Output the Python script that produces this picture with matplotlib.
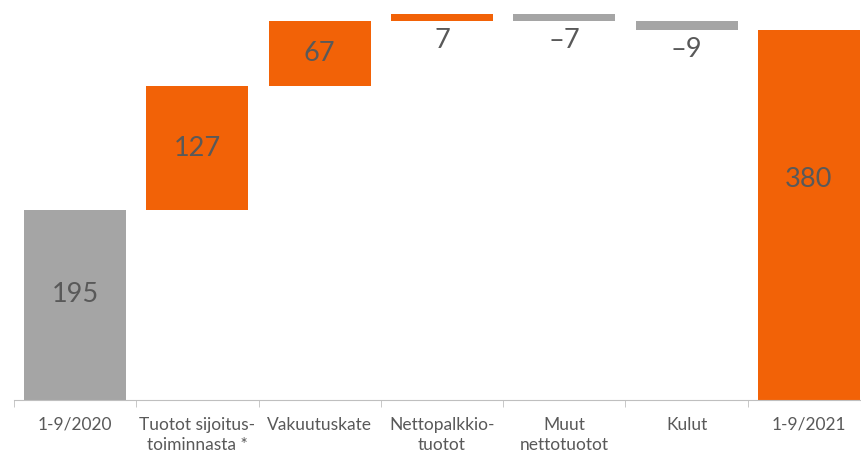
import matplotlib.pyplot as plt
import numpy as np

# waterfall data
categories = ['1-9/2020', 'Tuotot sijoitus-\ntoiminnasta *', 'Vakuutuskate',
              'Nettopalkkio-\ntuotot', 'Muut\nnettotuotot', 'Kulut', '1-9/2021']
changes = [195, 127, 67, 7, -7, -9, 380]
is_total = [True, False, False, False, False, False, True]

orange = '#F26207'
grey = '#A5A5A5'
text_col = '#595959'

plt.rcParams['font.family'] = ['Lato', 'DejaVu Sans']

fig = plt.figure(figsize=(8.61, 4.54), dpi=100)
ax = fig.add_axes([14 / 861, 54 / 454, 856 / 861, 400 / 454])

x = np.arange(len(categories))
running = 0
for i, (v, tot) in enumerate(zip(changes, is_total)):
    if tot:
        bottom, height = 0, v
        running = v
        col = grey if i == 0 else orange
    else:
        bottom = running if v > 0 else running + v
        height = abs(v)
        running += v
        col = orange if v > 0 else grey
    ax.bar(i, height, bottom=bottom, width=0.835, color=col)

    if tot:
        # labels sit a bit above the middle of the total bars
        frac = 0.555 if i == 0 else 0.595
        ax.text(i, v * frac, str(v), ha='center', va='center', fontsize=19.5, color=text_col)
    elif height > 30:
        ax.text(i, bottom + height / 2, str(v), ha='center', va='center', fontsize=19.5,
                color=text_col)
    else:
        lbl = str(v).replace('-', '\u2013')
        ax.annotate(lbl, (i, bottom), xytext=(0, -5), textcoords='offset points',
                    ha='center', va='top', fontsize=19.5, color=text_col)

ax.set_xlim(-0.5, 6.5)
ax.set_ylim(0, 410.7)

for s in ['top', 'right', 'left']:
    ax.spines[s].set_visible(False)
ax.spines['bottom'].set_color('#BFBFBF')
ax.set_yticks([])

ax.set_xticks(x)
ax.set_xticklabels(categories, fontsize=12.5, color=text_col, linespacing=1.3)
ax.tick_params(axis='x', which='major', length=0, pad=12)
ax.set_xticks(np.arange(-0.5, 6.6, 1), minor=True)
ax.tick_params(axis='x', which='minor', length=5, color='#BFBFBF')

fig.savefig('out.png', dpi=100)
